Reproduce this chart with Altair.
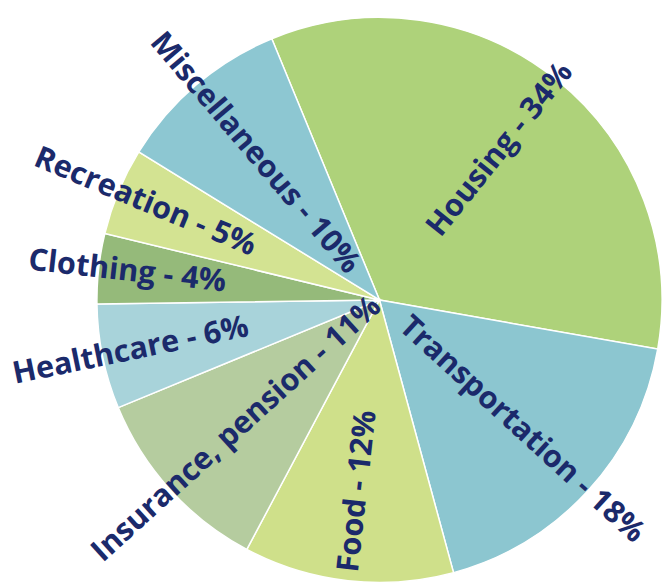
import math
import altair as alt
import pandas as pd

categories = ["Housing", "Transportation", "Food", "Insurance, pension",
              "Healthcare", "Clothing", "Recreation", "Miscellaneous"]
shares = [34, 18, 12, 11, 6, 4, 5, 10]
colors = ["#aed27a", "#8cc6d0", "#cfe08a", "#b5cc9f",
          "#a8d3da", "#95ba7a", "#d3e392", "#8dc7d2"]

START_DEG = -22.4  # rotation of the first slice edge (clockwise from 12 o'clock)

rows = []
cum = 0
for i, (c, v) in enumerate(zip(categories, shares)):
    mid = START_DEG + 3.6 * (cum + v / 2)
    cum += v
    m = mid % 360
    ang = (m - 90) if m < 180 else (m + 90)
    rows.append({"cat": c, "share": v, "idx": i,
                 "label": f"{c} - {v}%", "ang": ang % 360})
df = pd.DataFrame(rows)

start = math.radians(START_DEG)
theta_scale = alt.Scale(range=[start, start + 2 * math.pi])
color_scale = alt.Scale(domain=categories, range=colors)

CX, CY = 376, 292

base = alt.Chart(df).encode(
    theta=alt.Theta("share:Q", stack=True, scale=theta_scale),
    order=alt.Order("idx:Q"),
)

arcs = base.mark_arc(outerRadius=286, stroke="white", strokeWidth=1.5).encode(
    color=alt.Color("cat:N", scale=color_scale, legend=None),
    x=alt.value(CX), y=alt.value(CY),
)

text_style = dict(font="Open Sans", fontSize=31, fontWeight="bold",
                  color="#1b2a6b", align="center", baseline="middle")

# wide slices: labels nearer the centre; narrow slices: labels pushed outward
lab_big = base.mark_text(radius=195, **text_style).encode(
    text=alt.condition("datum.share >= 10", "label:N", alt.value("")),
    angle=alt.Angle("ang:Q", scale=None),
    detail="cat:N",
    x=alt.value(CX), y=alt.value(CY),
)
lab_small = base.mark_text(radius=257, **text_style).encode(
    text=alt.condition("datum.share < 10", "label:N", alt.value("")),
    angle=alt.Angle("ang:Q", scale=None),
    detail="cat:N",
    x=alt.value(CX), y=alt.value(CY),
)

chart = alt.layer(arcs, lab_big, lab_small).properties(
    width=662, height=579, padding=0,
    autosize=alt.AutoSizeParams(type="none"),
).configure_view(stroke=None)

chart.save("out.html", embed_options={"renderer": "svg", "actions": False})
